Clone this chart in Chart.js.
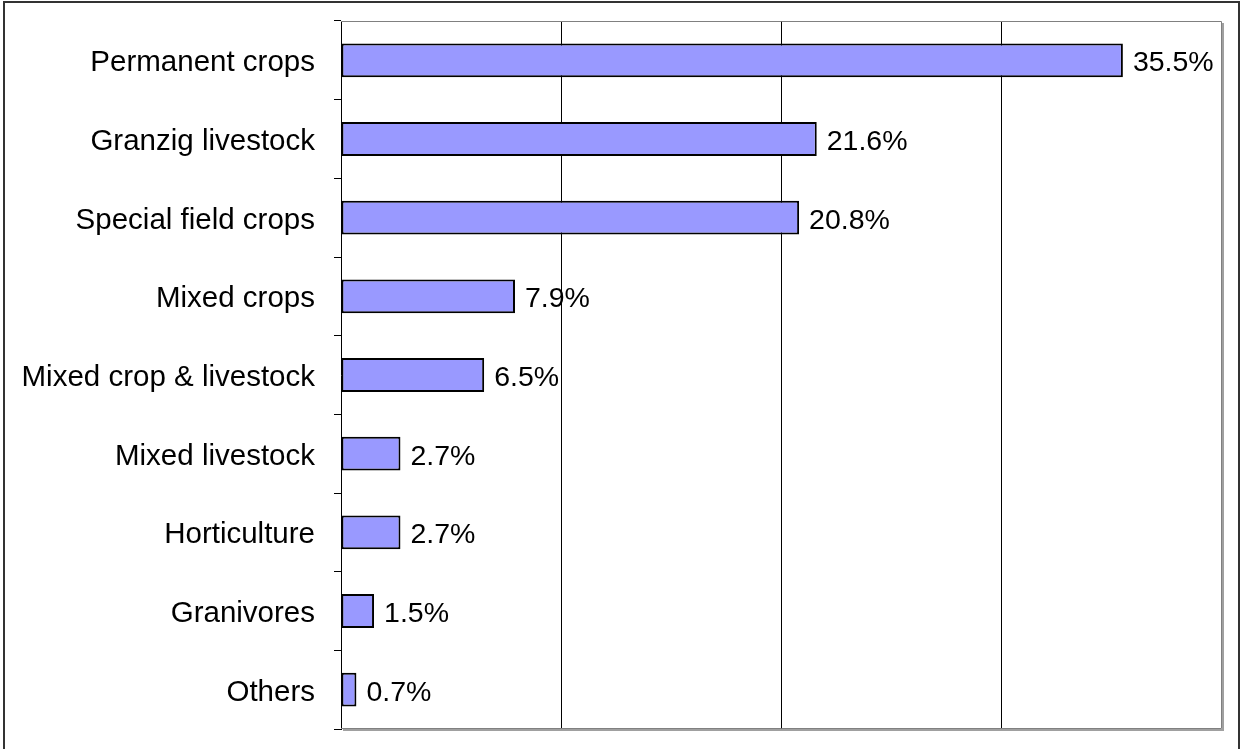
<!DOCTYPE html>
<html>
<head>
<meta charset="utf-8">
<script src="https://cdn.jsdelivr.net/npm/chart.js@4/dist/chart.umd.min.js"></script>
<style>
  html, body { margin: 0; padding: 0; background: #fff; }
  #wrap { width: 1241px; height: 749px; position: relative; }
</style>
</head>
<body>
<div id="wrap"><canvas id="farmchart" width="1241" height="749"></canvas></div>
<script>
const categories = [
  "Permanent crops",
  "Granzig livestock",
  "Special field crops",
  "Mixed crops",
  "Mixed crop & livestock",
  "Mixed livestock",
  "Horticulture",
  "Granivores",
  "Others",
];
const shares = [35.5, 21.6, 20.8, 7.9, 6.5, 2.7, 2.7, 1.5, 0.7];
const xTicks = [0, 10, 20, 30, 40];

const FONT = "'Liberation Sans', Arial, sans-serif";

// outer frame and the grey box round the plot
const framePlugin = {
  id: "frame",
  beforeDraw(chart) {
    const c = chart.ctx;
    c.save();
    c.fillStyle = "#fff";
    c.fillRect(0, 0, chart.width, chart.height);
    c.strokeStyle = "#333";
    c.lineWidth = 2;
    c.beginPath();
    c.moveTo(4, 760);
    c.lineTo(4, 2);
    c.lineTo(1239, 2);
    c.lineTo(1239, 760);
    c.stroke();
    c.restore();
  },
  afterDatasetsDraw(chart) {
    const a = chart.chartArea;
    const c = chart.ctx;
    c.save();
    // shadow
    c.strokeStyle = "#a0a0a0";
    c.lineWidth = 2;
    c.beginPath();
    c.moveTo(a.left + 2, a.bottom + 1);
    c.lineTo(a.right + 1, a.bottom + 1);
    c.lineTo(a.right + 1, a.top + 2);
    c.stroke();
    c.strokeStyle = "#808080";
    c.lineWidth = 1;
    c.beginPath();
    c.moveTo(a.left, a.top + 0.5);
    c.lineTo(a.right - 0.5, a.top + 0.5);
    c.lineTo(a.right - 0.5, a.bottom - 0.5);
    c.lineTo(a.left, a.bottom - 0.5);
    c.stroke();
    c.restore();
  },
};

// percentage labels next to each bar
const valueLabels = {
  id: "valueLabels",
  afterDatasetsDraw(chart) {
    const c = chart.ctx;
    const meta = chart.getDatasetMeta(0);
    c.save();
    c.font = "28.5px " + FONT;
    c.fillStyle = "#000";
    c.textAlign = "left";
    c.textBaseline = "middle";
    meta.data.forEach((bar, i) => {
      c.fillText(shares[i].toFixed(1) + "%", bar.x + 10, bar.y + 3);
    });
    c.restore();
  },
};

new Chart(document.getElementById("farmchart"), {
  type: "bar",
  data: {
    labels: categories,
    datasets: [
      {
        data: shares,
        backgroundColor: "#9999ff",
        borderColor: "#000",
        borderWidth: 2,
        borderSkipped: false,
        barPercentage: 0.43,
        categoryPercentage: 1,
      },
    ],
  },
  options: {
    indexAxis: "y",
    responsive: false,
    animation: false,
    events: [],
    layout: { padding: { top: 21, right: 19, bottom: 20, left: 0 } },
    plugins: {
      legend: { display: false },
      tooltip: { enabled: false },
    },
    scales: {
      x: {
        min: 0,
        max: 40,
        afterBuildTicks: (s) => {
          s.ticks = xTicks.map((v) => ({ value: v }));
        },
        afterFit: (s) => {
          s.height = 0;
          s.paddingLeft = 0;
          s.paddingRight = 0;
        },
        ticks: { display: false },
        border: { display: false },
        grid: {
          drawTicks: false,
          lineWidth: 1,
          color: (ctx) =>
            ctx.tick && (ctx.tick.value === 0 || ctx.tick.value === 40)
              ? "rgba(0,0,0,0)"
              : "#000",
        },
      },
      y: {
        afterFit: (s) => {
          s.width = 341;
          s.paddingTop = 0;
          s.paddingBottom = 0;
        },
        border: { display: true, color: "#000", width: 1 },
        grid: {
          offset: true,
          drawOnChartArea: false,
          drawTicks: true,
          tickLength: 7,
          color: "#000",
        },
        ticks: {
          color: "#000",
          padding: 19,
          labelOffset: 3,
          font: { family: FONT, size: 29.5 },
        },
      },
    },
  },
  plugins: [framePlugin, valueLabels],
});
</script>
</body>
</html>
